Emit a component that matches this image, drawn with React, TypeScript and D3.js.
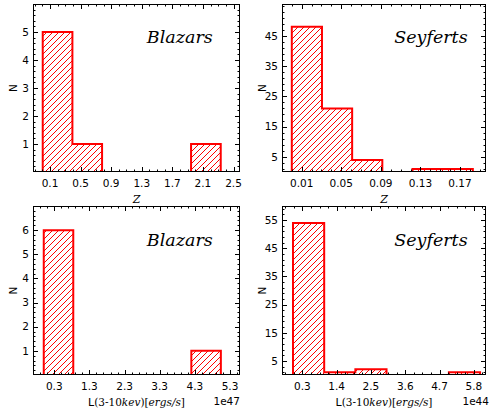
import React from 'react';
import * as d3 from 'd3';

// ---- data ----
const zBlazarEdges = [0.005, 0.393, 0.781, 1.169, 1.557, 1.945, 2.333];
const zBlazarCounts = [5, 1, 0, 0, 0, 1];
const zSeyfertEdges = [0.0, 0.0305, 0.061, 0.0915, 0.122, 0.1525, 0.183];
const zSeyfertCounts = [48, 21, 4, 0, 1, 1];
const lBlazarEdges = [0.0, 0.84, 1.68, 2.52, 3.36, 4.2, 5.04];
const lBlazarCounts = [6, 0, 0, 0, 0, 1];
const lSeyfertEdges = [0.0, 1.0, 2.0, 3.0, 4.0, 5.0, 6.0];
const lSeyfertCounts = [54, 1, 2, 0, 0, 1];

const zBlazarXTicks = ['0.1', '0.5', '0.9', '1.3', '1.7', '2.1', '2.5'];
const zSeyfertXTicks = ['0.01', '0.05', '0.09', '0.13', '0.17'];
const lBlazarXTicks = ['0.3', '1.3', '2.3', '3.3', '4.3', '5.3'];
const lSeyfertXTicks = ['0.3', '1.4', '2.5', '3.6', '4.7', '5.8'];
const blazarYTicksTop = ['1', '2', '3', '4', '5'];
const blazarYTicksBottom = ['1', '2', '3', '4', '5', '6'];
const seyfertYTicksTop = ['5', '15', '25', '35', '45'];
const seyfertYTicksBottom = ['5', '15', '25', '35', '45', '55'];

const RED = '#ff0000';
const SANS = "DejaVu Sans";
const SERIF = "DejaVu Serif";

interface PanelProps {
  id: string;
  left: number; right: number; top: number; bottom: number;
  xDomain: [number, number]; yDomain: [number, number];
  edges: number[]; counts: number[];
  xTicks: string[]; xMinorStep: number;
  yTicks: string[]; yMinorStep: number;
  title: string;
  kind: 'z' | 'L';
  offset?: string; offsetX?: number;
}

function minorRange(domain: [number, number], anchor: number, step: number) {
  const out: number[] = [];
  const start = anchor - Math.floor((anchor - domain[0]) / step) * step;
  for (let v = start; v <= domain[1] + 1e-9; v += step) out.push(v);
  return out;
}

const sansStyle = { fontFamily: SANS, fontSize: '10.5px' };
const serifItal = (size: number) => ({ fontFamily: SERIF, fontStyle: 'italic', fontSize: `${size}px` });

function Panel(p: PanelProps) {
  const x = d3.scaleLinear().domain(p.xDomain).range([p.left, p.right]);
  const y = d3.scaleLinear().domain(p.yDomain).range([p.bottom, p.top]);
  const pts: [number, number][] = [[x(p.edges[0]), y(0)]];
  p.counts.forEach((c, i) => {
    pts.push([x(p.edges[i]), y(c)]);
    pts.push([x(p.edges[i + 1]), y(c)]);
  });
  pts.push([x(p.edges[p.edges.length - 1]), y(0)]);
  const line = d3.line();
  const outline = line(pts) || '';
  const fillPath = outline + 'Z';

  const xMaj = p.xTicks.map(Number);
  const yMaj = p.yTicks.map(Number);
  const xMin = minorRange(p.xDomain, xMaj[0], p.xMinorStep).filter(v => !xMaj.some(m => Math.abs(m - v) < 1e-9));
  const yMin = minorRange(p.yDomain, yMaj[0], p.yMinorStep).filter(v => !yMaj.some(m => Math.abs(m - v) < 1e-9) && v > p.yDomain[0] + 1e-9);
  const MAJ = 5, MIN = 2.5;
  const cx = (p.left + p.right) / 2;
  const cy = (p.top + p.bottom) / 2;
  const w = p.right - p.left, h = p.bottom - p.top;

  // hatch "//" : 45-degree lines (x + y = k, k = 1 mod 6, page-anchored) clipped to the histogram polygon
  const HS = 6;
  const kStart = Math.floor((p.left + p.top) / HS) * HS + 1 - HS;
  const ks = d3.range(kStart, p.right + p.bottom + HS, HS);
  const hatchD = ks
    .map(k => `M${k - p.bottom},${p.bottom} L${k - p.top},${p.top}`)
    .join(' ');

  return (
    <g>
      <defs>
        <clipPath id={`clip-${p.id}`}>
          <rect x={p.left} y={p.top - 2} width={w} height={h + 2} />
        </clipPath>
        <clipPath id={`hclip-${p.id}`}>
          <path d={fillPath} />
        </clipPath>
      </defs>
      <g clipPath={`url(#clip-${p.id})`}>
        <g clipPath={`url(#hclip-${p.id})`}>
          <path d={hatchD} fill="none" stroke={RED} strokeWidth={1} />
        </g>
        <path d={outline} fill="none" stroke={RED} strokeWidth={2} strokeLinejoin="miter" />
      </g>
      <rect x={p.left + 0.5} y={p.top + 0.5} width={w - 1} height={h - 1} fill="none" stroke="#000" strokeWidth={1} />
      {xMaj.map((v, i) => (
        <g key={'xm' + i}>
          <line x1={Math.round(x(v)) + 0.5} x2={Math.round(x(v)) + 0.5} y1={p.bottom} y2={p.bottom - MAJ} stroke="#000" />
          <line x1={Math.round(x(v)) + 0.5} x2={Math.round(x(v)) + 0.5} y1={p.top} y2={p.top + MAJ} stroke="#000" />
          <text x={x(v)} y={p.bottom + 14.5} textAnchor="middle" style={sansStyle}>{p.xTicks[i]}</text>
        </g>
      ))}
      {xMin.map((v, i) => (
        <g key={'xn' + i}>
          <line x1={Math.round(x(v)) + 0.5} x2={Math.round(x(v)) + 0.5} y1={p.bottom} y2={p.bottom - MIN} stroke="#000" />
          <line x1={Math.round(x(v)) + 0.5} x2={Math.round(x(v)) + 0.5} y1={p.top} y2={p.top + MIN} stroke="#000" />
        </g>
      ))}
      {yMaj.map((v, i) => (
        <g key={'ym' + i}>
          <line y1={Math.round(y(v)) + 0.5} y2={Math.round(y(v)) + 0.5} x1={p.left} x2={p.left + MAJ} stroke="#000" />
          <line y1={Math.round(y(v)) + 0.5} y2={Math.round(y(v)) + 0.5} x1={p.right} x2={p.right - MAJ} stroke="#000" />
          <text x={p.left - 4} y={y(v)} dy="0.36em" textAnchor="end" style={sansStyle}>{p.yTicks[i]}</text>
        </g>
      ))}
      {yMin.map((v, i) => (
        <g key={'yn' + i}>
          <line y1={Math.round(y(v)) + 0.5} y2={Math.round(y(v)) + 0.5} x1={p.left} x2={p.left + MIN} stroke="#000" />
          <line y1={Math.round(y(v)) + 0.5} y2={Math.round(y(v)) + 0.5} x1={p.right} x2={p.right - MIN} stroke="#000" />
        </g>
      ))}
      <text x={p.left + 0.55 * w} y={p.bottom - 0.765 * h} style={serifItal(17.5)}>{p.title}</text>
      <text transform={`translate(${p.left - 16.5},${cy}) rotate(-90)`} textAnchor="middle" style={sansStyle}>N</text>
      {p.kind === 'z' ? (
        <text x={cx} y={p.bottom + 31} textAnchor="middle" style={serifItal(11)}>Z</text>
      ) : (
        <text x={cx} y={p.bottom + 31} textAnchor="middle" style={{ fontFamily: SERIF, fontSize: '10.5px' }}>
          <tspan style={{ fontFamily: SANS, fontSize: '11px' }}>L</tspan>
          <tspan>(3-10</tspan>
          <tspan style={{ fontStyle: 'italic' }}>kev</tspan>
          <tspan>)[</tspan>
          <tspan style={{ fontStyle: 'italic' }}>ergs/s</tspan>
          <tspan>]</tspan>
        </text>
      )}
      {p.offset && (
        <text x={p.offsetX ?? p.right} y={p.bottom + 30} textAnchor="end" style={sansStyle}>{p.offset}</text>
      )}
    </g>
  );
}

export default function App() {
  return (
    <svg width={490} height={416} style={{ position: 'absolute', left: 0, top: 0, background: '#fff' }}>
      <rect x={0} y={0} width={490} height={416} fill="#fff" />
      <Panel id="tl" left={33} right={240} top={4} bottom={172}
        xDomain={[-0.1223, 2.585]} yDomain={[0, 6]}
        edges={zBlazarEdges} counts={zBlazarCounts}
        xTicks={zBlazarXTicks} xMinorStep={0.1}
        yTicks={blazarYTicksTop} yMinorStep={0.2}
        title="Blazars" kind="z" />
      <Panel id="tr" left={282} right={486} top={4} bottom={172}
        xDomain={[-0.0099, 0.1963]} yDomain={[0, 55.5]}
        edges={zSeyfertEdges} counts={zSeyfertCounts}
        xTicks={zSeyfertXTicks} xMinorStep={0.01}
        yTicks={seyfertYTicksTop} yMinorStep={2}
        title="Seyferts" kind="z" />
      <Panel id="bl" left={33} right={240} top={206} bottom={375}
        xDomain={[-0.306, 5.585]} yDomain={[0, 7]}
        edges={lBlazarEdges} counts={lBlazarCounts}
        xTicks={lBlazarXTicks} xMinorStep={0.2}
        yTicks={blazarYTicksBottom} yMinorStep={0.2}
        title="Blazars" kind="L" offset="1e47" offsetX={240} />
      <Panel id="br" left={282} right={486} top={206} bottom={375}
        xDomain={[-0.353, 6.19]} yDomain={[0, 60]}
        edges={lSeyfertEdges} counts={lSeyfertCounts}
        xTicks={lSeyfertXTicks} xMinorStep={0.275}
        yTicks={seyfertYTicksBottom} yMinorStep={2}
        title="Seyferts" kind="L" offset="1e44" offsetX={489} />
    </svg>
  );
}
